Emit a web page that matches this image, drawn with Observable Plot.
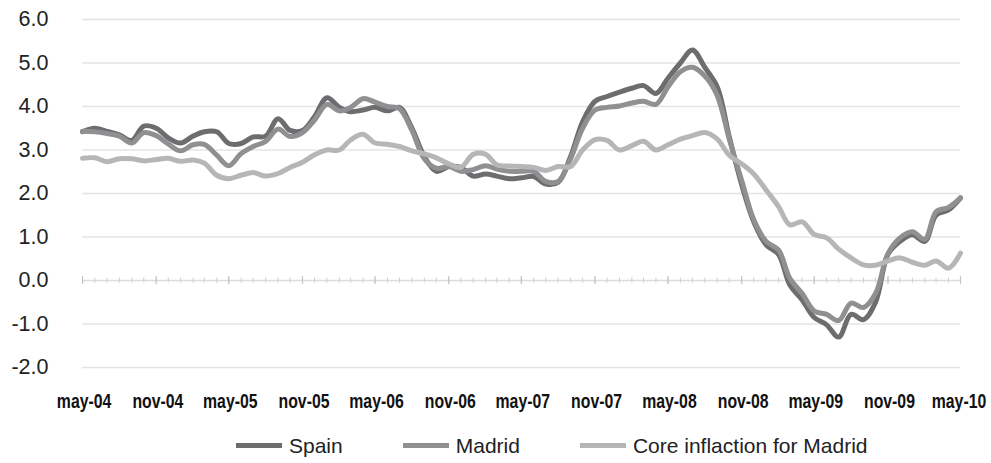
<!DOCTYPE html>
<html>
<head>
<meta charset="utf-8">
<script src="https://cdn.jsdelivr.net/npm/d3@7"></script>
<script src="https://cdn.jsdelivr.net/npm/@observablehq/plot@0.6"></script>
<style>
  html, body { margin: 0; padding: 0; background: #fff; }
  #chart { width: 991px; }
  .legend { display: flex; align-items: center; height: 35px; padding-left: 236px;
    font-family: "Liberation Sans", Arial, sans-serif; font-size: 21px; color: #222; }
  .legend .item { display: flex; align-items: center; margin-right: 60px; }
  .legend .sw { width: 46px; height: 5px; margin-right: 7px; }
</style>
</head>
<body>
<div id="chart"></div>
<script>
// Monthly series, May 2004 – May 2010 (73 months)
const seriesNames = ["Spain", "Madrid", "Core inflaction for Madrid"];
const seriesColors = ["#6d6d6f", "#909092", "#b6b6b8"];

const spain = [
  3.42, 3.50, 3.43, 3.35, 3.22, 3.55, 3.50, 3.28, 3.16, 3.32, 3.42, 3.42,
  3.15, 3.15, 3.30, 3.32, 3.72, 3.45, 3.45, 3.77, 4.20, 3.98, 3.88, 3.92,
  3.98, 3.90, 3.98, 3.50, 2.85, 2.51, 2.62, 2.60, 2.40, 2.45, 2.40, 2.34,
  2.36, 2.39, 2.22, 2.26, 2.85, 3.65, 4.12, 4.23, 4.33, 4.42, 4.48, 4.30,
  4.65, 5.00, 5.30, 4.90, 4.45, 3.30, 2.20, 1.35, 0.82, 0.60, -0.10, -0.45,
  -0.85, -1.02, -1.30, -0.78, -0.90, -0.50, 0.60, 0.90, 1.05, 0.90, 1.50, 1.62,
  1.90
];
const madrid = [
  3.43, 3.42, 3.38, 3.32, 3.16, 3.40, 3.33, 3.14, 2.98, 3.12, 3.13, 2.88,
  2.64, 2.92, 3.08, 3.20, 3.48, 3.31, 3.40, 3.69, 4.05, 3.90, 3.98, 4.18,
  4.10, 4.00, 3.95, 3.45, 2.80, 2.58, 2.62, 2.51, 2.55, 2.64, 2.56, 2.51,
  2.51, 2.51, 2.28, 2.28, 2.80, 3.50, 3.92, 3.98, 4.01, 4.08, 4.12, 4.05,
  4.45, 4.80, 4.90, 4.70, 4.25, 3.25, 2.30, 1.40, 0.90, 0.70, 0.05, -0.30,
  -0.70, -0.78, -0.92, -0.52, -0.62, -0.30, 0.62, 0.98, 1.12, 0.95, 1.58, 1.68,
  1.90
];
const core = [
  2.81, 2.82, 2.73, 2.80, 2.80, 2.75, 2.78, 2.81, 2.74, 2.77, 2.70, 2.42,
  2.34, 2.42, 2.48, 2.40, 2.46, 2.60, 2.72, 2.89, 3.00, 3.00, 3.23, 3.36,
  3.16, 3.13, 3.08, 2.98, 2.91, 2.82, 2.68, 2.60, 2.90, 2.90, 2.66, 2.63,
  2.62, 2.60, 2.53, 2.62, 2.62, 3.00, 3.24, 3.22, 3.00, 3.10, 3.20, 3.00,
  3.12, 3.25, 3.33, 3.40, 3.25, 2.88, 2.68, 2.45, 2.08, 1.70, 1.28, 1.35,
  1.06, 0.98, 0.72, 0.52, 0.36, 0.35, 0.45, 0.52, 0.42, 0.35, 0.45, 0.28,
  0.63
];

const xTickLabels = ["may-04", "nov-04", "may-05", "nov-05", "may-06", "nov-06", "may-07",
  "nov-07", "may-08", "nov-08", "may-09", "nov-09", "may-10"];
const yTicks = [-2, -1, 0, 1, 2, 3, 4, 5, 6];

const months = spain.map((_, i) => new Date(Date.UTC(2004, 4 + i, 1)));
const majorMonths = months.filter((_, i) => i % 6 === 0);
const labelOf = new Map(majorMonths.map((d, i) => [+d, xTickLabels[i]]));
const labelSet = new Set(xTickLabels);

const seriesValues = [spain, madrid, core];
const rows = seriesValues.flatMap((vals, s) =>
  vals.map((v, i) => ({date: months[i], value: v, series: seriesNames[s]})));

const plot = Plot.plot({
  width: 991,
  height: 428,
  marginLeft: 82,
  marginRight: 31,
  marginTop: 19,
  marginBottom: 61,
  style: {background: "#fff"},
  x: {type: "utc", domain: [months[0], months[months.length - 1]]},
  y: {domain: [-2, 6]},
  color: {domain: seriesNames, range: seriesColors},
  marks: [
    Plot.ruleY(yTicks.filter(v => v !== 0), {stroke: "#e4e4e4", strokeWidth: 1.5}),
    Plot.ruleY([0], {stroke: "#dcdcdc", strokeWidth: 1.5}),
    Plot.ruleX(months, {x: d => d, y1: -0.06, y2: 0.06, stroke: "#cfcfcf", strokeWidth: 1}),
    Plot.ruleX(majorMonths, {x: d => d, y1: -0.09, y2: 0.09, stroke: "#c4c4c4", strokeWidth: 1.2}),
    Plot.axisY({ticks: yTicks, tickSize: 0, tickPadding: 34, label: null,
      tickFormat: d => d.toFixed(1), fontSize: 21.5, fontFamily: "Liberation Sans, Arial, sans-serif",
      fill: "#222"}),
    Plot.axisX({ticks: majorMonths, tickSize: 0, tickPadding: 26, label: null,
      tickFormat: d => labelOf.get(+d), fontSize: 20, fontWeight: "bold",
      fontFamily: "Liberation Sans, Arial, sans-serif",
      fill: "#111"}),
    Plot.line(rows, {x: "date", y: "value", z: "series", stroke: "series",
      strokeWidth: 5, curve: "catmull-rom", strokeLinejoin: "round"})
  ]
});
document.getElementById("chart").appendChild(plot);

// condense the bold x labels (narrow typeface look) around each label's own centre
const xl = Array.from(plot.querySelectorAll("text")).filter(t => labelSet.has(t.textContent));
xl.forEach((t, i) => {
  const base = t.getAttribute("transform") || "";
  const bb = t.getBBox();
  const cx = bb.x + bb.width / 2;
  const shift = i === xl.length - 1 ? -1.5 : 1.5;
  t.setAttribute("transform", `${base} translate(${cx + shift},0) scale(0.79,1) translate(${-cx},0)`);
});

const legend = document.createElement("div");
legend.className = "legend";
seriesNames.forEach((name, i) => {
  const item = document.createElement("div");
  item.className = "item";
  const sw = document.createElement("div");
  sw.className = "sw";
  sw.style.background = seriesColors[i];
  const t = document.createElement("span");
  t.textContent = name;
  item.appendChild(sw);
  item.appendChild(t);
  legend.appendChild(item);
});
document.getElementById("chart").appendChild(legend);
</script>
</body>
</html>
